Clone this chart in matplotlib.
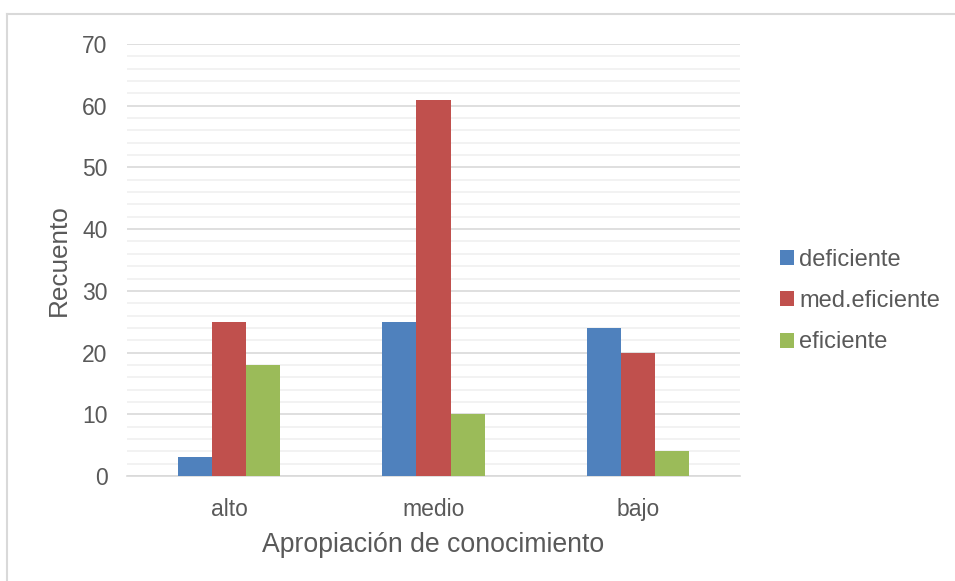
import matplotlib
matplotlib.use('Agg')
import matplotlib.pyplot as plt
from matplotlib.lines import Line2D
import numpy as np

categories = ['alto', 'medio', 'bajo']
series_names = ['deficiente', 'med.eficiente', 'eficiente']
deficiente = [3, 25, 24]
med_eficiente = [25, 61, 20]
eficiente = [18, 10, 4]

colors = ['#4f81bd', '#c0504d', '#9bbb59']
text_color = '#595959'

plt.rcParams['font.family'] = ['Liberation Sans', 'DejaVu Sans']

W, H = 955, 581
fig = plt.figure(figsize=(W / 100, H / 100), dpi=100)
ax = fig.add_axes([127 / W, 1 - 476 / H, 613 / W, 432 / H])

x = np.arange(len(categories))
width = 1 / 6
values = [deficiente, med_eficiente, eficiente]
for i, (name, vals) in enumerate(zip(series_names, values)):
    ax.bar(x + (i - 1) * width, vals, width, color=colors[i], label=name, zorder=3)

ax.set_xlim(-0.5, 2.5)
ax.set_ylim(0, 70)
ax.set_yticks(np.arange(0, 71, 10))
ax.set_yticks(np.arange(0, 71, 2), minor=True)
ax.set_xticks(x)
ax.set_xticklabels(categories)

ax.grid(axis='y', which='major', color='#d9d9d9', linewidth=1.2, zorder=0)
ax.grid(axis='y', which='minor', color='#f0f0f0', linewidth=1.2, zorder=0)
for s in ['top', 'right', 'left']:
    ax.spines[s].set_visible(False)
ax.spines['bottom'].set_color('#d9d9d9')
ax.spines['bottom'].set_linewidth(1.2)
ax.tick_params(axis='both', which='both', length=0, labelsize=16.5, colors=text_color)
ax.tick_params(axis='y', pad=14)
ax.tick_params(axis='x', pad=16)

ax.set_ylabel('Recuento', fontsize=18.8, color=text_color, labelpad=8)
ax.set_xlabel('Apropiación de conocimiento', fontsize=19.2, color=text_color, labelpad=8)

ax.legend(loc='center left', bbox_to_anchor=(759 / W, 1 - 301 / H),
          bbox_transform=fig.transFigure, frameon=False, fontsize=17,
          labelcolor=text_color, handlelength=0.6, handleheight=0.6,
          handletextpad=0.2, labelspacing=0.82)

# outer chart border (left and top edges only visible)
fig.add_artist(Line2D([7 / W, 7 / W], [0, 1 - 14 / H], transform=fig.transFigure,
                      color='#d9d9d9', linewidth=1.5))
fig.add_artist(Line2D([7 / W, 1], [1 - 14 / H, 1 - 14 / H], transform=fig.transFigure,
                      color='#d9d9d9', linewidth=1.5))

fig.savefig('out.png', dpi=100)
